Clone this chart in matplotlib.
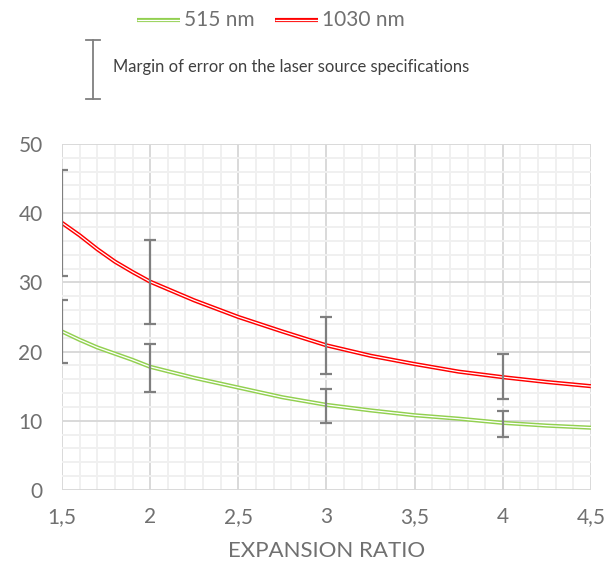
import matplotlib
matplotlib.use("Agg")
import matplotlib.pyplot as plt
from matplotlib.ticker import MultipleLocator, FixedLocator, FixedFormatter
from matplotlib.lines import Line2D

plt.rcParams['font.family'] = ['Lato', 'DejaVu Sans']

TEXT = "#707070"
RED = "#FF0000"
GREEN = "#92D050"
BAR = "#7F7F7F"

# Curves
ratio = [1.5, 1.6, 1.7, 1.8, 1.9, 2, 2.25, 2.5, 2.75, 3, 3.25, 3.5, 3.75, 4, 4.25, 4.5]
red_1030 = [38.6, 36.8, 34.8, 33.0, 31.5, 30.1, 27.4, 25.0, 22.9, 20.9, 19.4, 18.2,
            17.1, 16.3, 15.6, 15.0]
green_515 = [22.9, 21.7, 20.6, 19.7, 18.8, 17.8, 16.2, 14.8, 13.4, 12.3, 11.5, 10.8,
             10.3, 9.7, 9.3, 9.0]

# Error bars (margin on laser source specs)
err_x = [1.5, 2, 3, 4]
red_low = [30.9, 24.0, 16.7, 13.1]
red_high = [46.3, 36.1, 25.0, 19.7]
green_low = [18.3, 14.1, 9.7, 7.7]
green_high = [27.5, 21.1, 14.6, 11.4]

xtick_vals = [1.5, 2, 2.5, 3, 3.5, 4, 4.5]
xtick_labels = ["1,5", "2", "2,5", "3", "3,5", "4", "4,5"]

fig = plt.figure(figsize=(6.09, 5.72), dpi=100)
ax = fig.add_axes([0.1018, 0.1434, 0.8686, 0.6049])

ax.set_xlim(1.5, 4.5)
ax.set_ylim(0, 50)
ax.xaxis.set_major_locator(FixedLocator(xtick_vals))
ax.xaxis.set_major_formatter(FixedFormatter(xtick_labels))
ax.xaxis.set_minor_locator(MultipleLocator(0.1))
ax.yaxis.set_major_locator(MultipleLocator(10))
ax.yaxis.set_minor_locator(MultipleLocator(2))
ax.grid(which='minor', color="#F0F0F0", linewidth=1.4, zorder=0)
ax.grid(which='major', color="#D9D9D9", linewidth=1.4, zorder=0)
ax.set_axisbelow(True)
ax.tick_params(which='both', length=0)
ax.tick_params(axis='x', pad=12, labelsize=15, labelcolor=TEXT)
ax.tick_params(axis='y', pad=14, labelsize=15, labelcolor=TEXT)
for s in ax.spines.values():
    s.set_visible(False)

ax.set_xlabel("EXPANSION RATIO", fontsize=16, color=TEXT, labelpad=10)


def double_line(x, y, color):
    ax.plot(x, y, color=color, linewidth=3.0, solid_capstyle='butt',
            solid_joinstyle='round', zorder=3)
    ax.plot(x, y, color="white", linewidth=0.9, solid_capstyle='butt',
            solid_joinstyle='round', zorder=4)


def err_bars(x, lo, hi):
    mid = [(a + b) / 2 for a, b in zip(lo, hi)]
    yerr = [[m - a for m, a in zip(mid, lo)], [b - m for m, b in zip(mid, hi)]]
    ax.errorbar(x, mid, yerr=yerr, fmt='none', ecolor=BAR, elinewidth=1.6,
                capsize=4, capthick=1.6, zorder=5)


double_line(ratio, red_1030, RED)
double_line(ratio, green_515, GREEN)
err_bars(err_x, red_low, red_high)
err_bars(err_x, green_low, green_high)

# Legend row
for x0, col, label in [(137, GREEN, "515 nm"), (275, RED, "1030 nm")]:
    xs = [x0 / 609, (x0 + 43) / 609]
    ys = [1 - 20 / 572] * 2
    fig.add_artist(Line2D(xs, ys, color=col, linewidth=3.0, solid_capstyle='butt'))
    fig.add_artist(Line2D(xs, ys, color="white", linewidth=0.9, solid_capstyle='butt'))
    fig.text((x0 + 47) / 609, 1 - 20 / 572, label, fontsize=15, color=TEXT,
             ha='left', va='center')

# Error bar legend
bx = 93 / 609
fig.add_artist(Line2D([bx, bx], [1 - 40 / 572, 1 - 99 / 572], color=BAR, linewidth=1.3))
for yy in (40, 99):
    fig.add_artist(Line2D([86 / 609, 100 / 609], [1 - yy / 572] * 2, color=BAR, linewidth=1.3))
fig.text(113 / 609, 1 - 67 / 572, "Margin of error on the laser source specifications",
         fontsize=11.9, color="#404040", ha='left', va='center')

fig.savefig("out.png", dpi=100)
